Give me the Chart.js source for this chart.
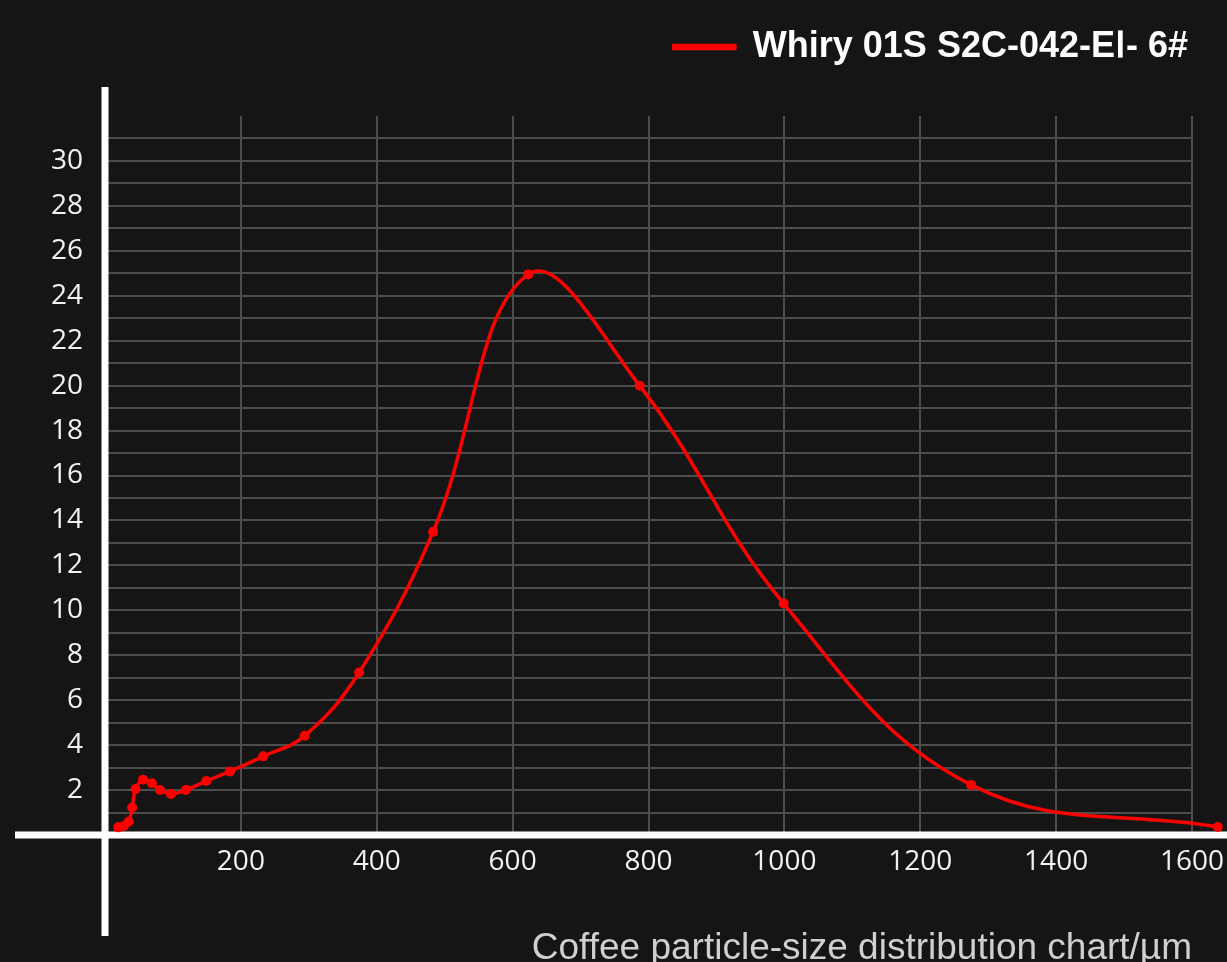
<!DOCTYPE html>
<html>
<head>
<meta charset="utf-8">
<script src="https://cdn.jsdelivr.net/npm/chart.js@4.4.1/dist/chart.umd.min.js"></script>
<style>
  html, body { margin: 0; padding: 0; background: #151515; }
  #wrap { width: 1227px; height: 962px; }
</style>
</head>
<body>
<div id="wrap"><canvas id="c" width="1227" height="962"></canvas></div>
<script>
// ---- data ----
const seriesName = "Whiry 01S S2C-042-E\u2160- 6#";
const xTitle = "Coffee particle-size distribution chart/\u00b5m";
const particleSizes = [19.6, 28, 35, 40, 45, 56, 69, 81, 97, 119, 149, 184, 233, 294, 374, 483, 623, 787, 999, 1275, 1638];
const percentages   = [0.34, 0.4, 0.6, 1.22, 2.05, 2.46, 2.3, 2.0, 1.83, 2.0, 2.4, 2.83, 3.5, 4.42, 7.23, 13.5, 24.95, 20.0, 10.3, 2.23, 0.36];
const xTickValues = [200, 400, 600, 800, 1000, 1200, 1400, 1600];
const yTickValues = [2, 4, 6, 8, 10, 12, 14, 16, 18, 20, 22, 24, 26, 28, 30];

const RED = '#ff0000';
const GRID = '#4d4d4d';
const LEGEND_EXTRA = 41;

const points = particleSizes.map((s, i) => ({ x: s, y: percentages[i] }));

const axesPlugin = {
  id: 'whiteAxes',
  beforeUpdate(chart) {
    const lg = chart.legend;
    if (lg && !lg._patched) {
      const orig = lg.fit.bind(lg);
      lg.fit = function () { orig(); this.height += LEGEND_EXTRA; };
      lg._patched = true;
    }
  },
  beforeDatasetsDraw(chart) {
    const ctx = chart.ctx;
    const x0 = chart.scales.x.getPixelForValue(0);
    const y0 = chart.scales.y.getPixelForValue(0);
    ctx.save();
    ctx.fillStyle = '#ffffff';
    ctx.fillRect(x0 - 3.5, 87, 7, 936 - 87);
    ctx.fillRect(15, y0 - 3.5, chart.width - 15, 7);
    ctx.restore();
    // let the last marker (beyond 1600) be drawn
    chart._savedRight = chart.chartArea.right;
    chart.chartArea.right = chart.width;
  },
  afterDatasetsDraw(chart) {
    if (chart._savedRight !== undefined) chart.chartArea.right = chart._savedRight;
  }
};

Chart.defaults.font.family = '"Open Sans", "Noto Sans", sans-serif';

new Chart(document.getElementById('c'), {
  type: 'line',
  data: {
    datasets: [{
      label: seriesName,
      data: points,
      borderColor: RED,
      backgroundColor: RED,
      borderWidth: 3.5,
      pointRadius: 5,
      pointBackgroundColor: RED,
      pointBorderWidth: 0,
      tension: 0.4,
      capBezierPoints: false,
      clip: false
    }]
  },
  options: {
    responsive: false,
    animation: false,
    events: [],
    layout: { padding: { top: 18, right: 28, left: 0, bottom: 0 } },
    plugins: {
      legend: {
        display: true,
        position: 'top',
        align: 'end',
        labels: {
          color: '#ffffff',
          boxWidth: 61,
          boxHeight: 3,
          padding: 11,
          font: { family: '"Liberation Sans", Arial, sans-serif', size: 36, weight: 'bold' }
        }
      },
      tooltip: { enabled: false }
    },
    scales: {
      x: {
        type: 'linear',
        min: 0,
        max: 1600,
        afterBuildTicks(scale) { scale.ticks = [0].concat(xTickValues).map(v => ({ value: v })); },
        afterFit(scale) { scale.height = 127; scale.paddingRight = 35; scale.paddingLeft = 0; },
        border: { display: false },
        grid: {
          drawTicks: false,
          lineWidth: 2,
          color: (c) => (c.tick && c.tick.value > 0 ? GRID : 'rgba(0,0,0,0)')
        },
        ticks: {
          padding: 10,
          color: '#f2f2f2',
          font: { size: 28 },
          maxRotation: 0,
          autoSkip: false,
          callback: (v) => (xTickValues.includes(v) ? String(v) : '')
        },
        title: {
          display: true,
          text: xTitle,
          align: 'end',
          color: '#cfcfcf',
          padding: { top: 0, bottom: -5 },
          font: { family: '"Liberation Sans", Arial, sans-serif', size: 37, lineHeight: 1 }
        }
      },
      y: {
        min: 0,
        max: 32,
        afterFit(scale) { scale.width = 105; scale.paddingTop = 0; scale.paddingBottom = 0; },
        border: { display: false },
        grid: {
          drawTicks: false,
          lineWidth: 2,
          color: (c) => (c.tick && c.tick.value > 0 && c.tick.value < 32 ? GRID : 'rgba(0,0,0,0)')
        },
        ticks: {
          stepSize: 1,
          padding: 22,
          color: '#f2f2f2',
          font: { size: 28 },
          autoSkip: false,
          callback: (v) => (yTickValues.includes(v) ? String(v) : '')
        }
      }
    }
  },
  plugins: [axesPlugin]
});
</script>
</body>
</html>
